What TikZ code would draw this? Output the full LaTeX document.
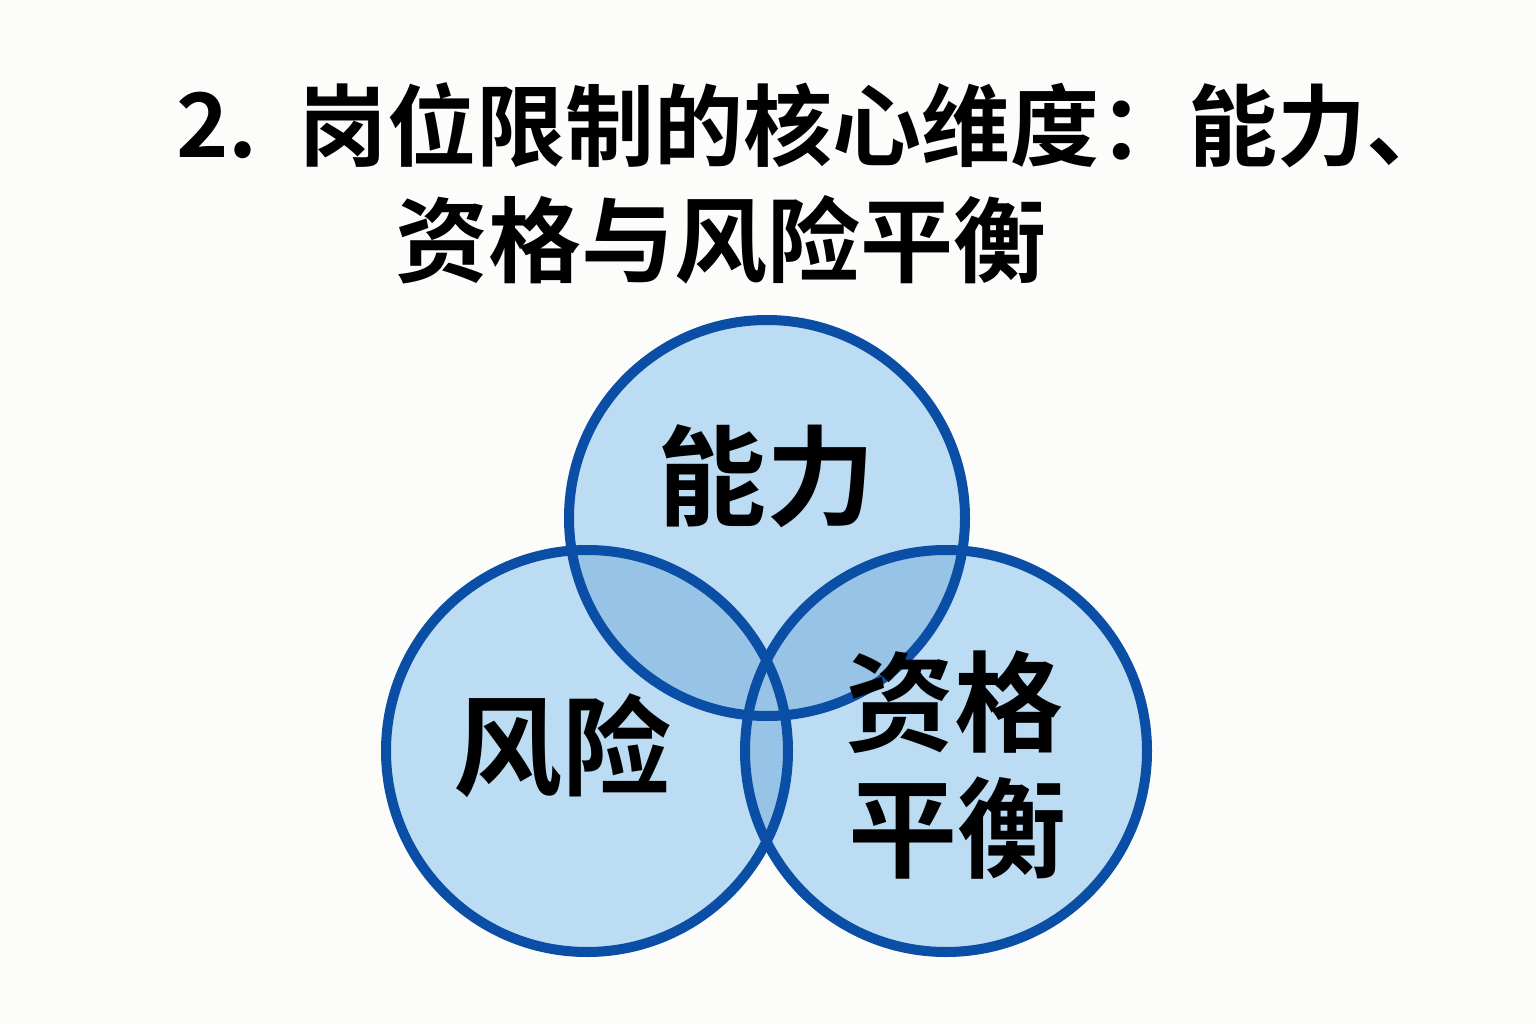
\documentclass[tikz,border=0pt]{standalone}
\usepackage{fontspec}
\setmainfont{Noto Sans CJK SC}[BoldFont={* Bold}]
\newfontfamily\cjkb{Noto Sans CJK SC Bold}
\definecolor{bgc}{HTML}{FCFCFA}
\definecolor{ring}{HTML}{0A4EA5}
\definecolor{lightf}{HTML}{BBDCF2}
\definecolor{darkf}{HTML}{97C3E6}
\begin{document}
\begin{tikzpicture}[x=1pt,y=-1pt,
  ringline/.style={draw=ring,line width=10pt},
  titlea/.style={font=\cjkb\fontsize{89}{100}\selectfont,inner sep=0pt,anchor=west},
  titleb/.style={font=\cjkb\fontsize{93}{100}\selectfont,inner sep=0pt,anchor=west},
  lab/.style={font=\cjkb\fontsize{109}{120}\selectfont,inner sep=0pt,align=center}]
\fill[bgc] (0,0) rectangle (1536,1024);
\useasboundingbox (0,0) rectangle (1536,1024);
\coordinate (ct) at (767,518);
\coordinate (cl) at (587,751);
\coordinate (cr) at (946,751);
\def\rt{198}
\def\rr{201}
% light fills
\fill[lightf] (ct) circle[radius=\rt];
\fill[lightf] (cl) circle[radius=\rr];
\fill[lightf] (cr) circle[radius=\rr];
% overlaps
\begin{scope}
  \clip (ct) circle[radius=\rt];
  \fill[darkf] (cl) circle[radius=\rr];
  \fill[darkf] (cr) circle[radius=\rr];
\end{scope}
\begin{scope}
  \clip (cl) circle[radius=\rr];
  \fill[darkf] (cr) circle[radius=\rr];
\end{scope}
% outlines
\draw[ringline] (ct) circle[radius=\rt];
\draw[ringline] (cl) circle[radius=\rr];
\draw[ringline] (cr) circle[radius=\rr];
% title
\node[titlea] (t0) at (176,125) {2.};
\node[titlea] (t1) at (298,125) {岗位限制的核心维度：能力、};
\node[titleb] (t2) at (395,240) {资格与风险平衡};
% labels
\node[lab] (nl) at (766,476) {能力};
\node[lab] (rl) at (562,746) {风险};
\node[lab] (zg) at (954,702) {资格};
\node[lab] (ph) at (957,828) {平衡};
\end{tikzpicture}
\end{document}
